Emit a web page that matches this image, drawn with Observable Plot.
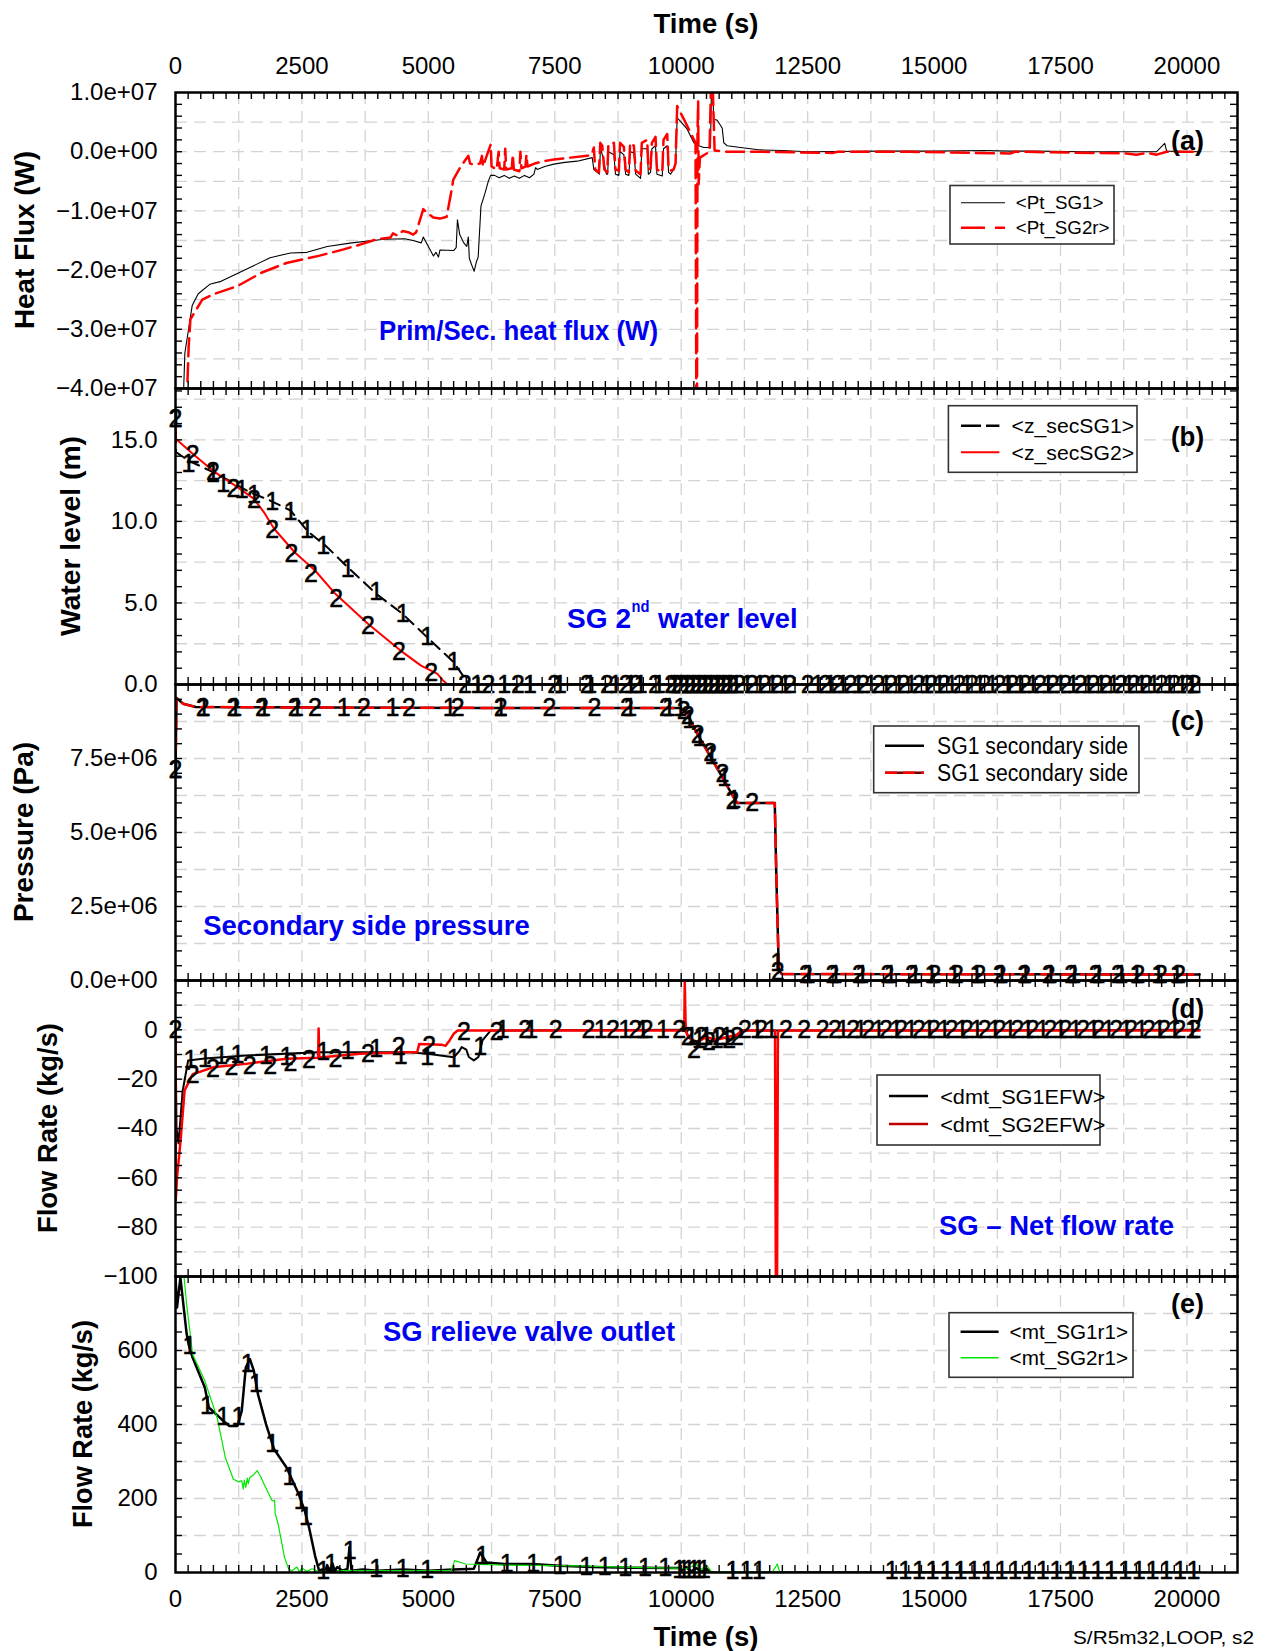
<!DOCTYPE html>
<html>
<head>
<meta charset="utf-8">
<script src="https://cdn.jsdelivr.net/npm/d3@7"></script>
<script src="https://cdn.jsdelivr.net/npm/@observablehq/plot@0.6"></script>
<style>
  body { margin: 0; background: #fff; }
  #chart { position: relative; width: 1269px; height: 1651px; background: #fff; }
  .pnl { position: absolute; left: 0; }
</style>
</head>
<body>
<div id="chart"></div>
<script>
// ---------------- DATA ----------------
const xTickLabels = [0, 2500, 5000, 7500, 10000, 12500, 15000, 17500, 20000];

// (a) heat flux (W)
const heatTicks = [-4e7, -3e7, -2e7, -1e7, 0, 1e7];
const ptSG1 = [
 [150,-4.3e7],[185,-3.4e7],[258,-3.0e7],[330,-2.6e7],[450,-2.4e7],[677,-2.24e7],[900,-2.19e7],[1390,-1.99e7],[1870,-1.79e7],[2275,-1.71e7],[2600,-1.70e7],[3000,-1.60e7],[3485,-1.54e7],[4130,-1.48e7],[4530,-1.47e7],[4700,-1.50e7],[4860,-1.54e7],[4900,-1.44e7],[4950,-1.52e7],[5050,-1.68e7],[5100,-1.76e7],[5150,-1.70e7],[5200,-1.78e7],[5230,-1.66e7],[5500,-1.67e7],[5550,-1.62e7],[5575,-1.15e7],[5620,-1.40e7],[5700,-1.54e7],[5760,-1.60e7],[5790,-1.44e7],[5810,-1.80e7],[5860,-1.92e7],[5905,-2.02e7],[5950,-1.86e7],[5985,-1.78e7],[6040,-0.92e7],[6120,-0.70e7],[6185,-0.50e7],[6232,-0.40e7],[6310,-0.40e7],[6400,-0.44e7],[6500,-0.40e7],[6600,-0.45e7],[6700,-0.41e7],[6800,-0.45e7],[6900,-0.40e7],[7000,-0.44e7],[7087,-0.38e7],[7120,-0.27e7],[7153,-0.30e7],[7300,-0.25e7],[7482,-0.21e7],[7700,-0.18e7],[7943,-0.16e7],[8240,-0.10e7],
 [8272,-0.30e7],[8380,-0.38e7],[8404,0.05e7],[8439,-0.05e7],[8520,-0.38e7],[8545,-0.38e7],[8565,0.0],[8669,-0.05e7],[8700,-0.38e7],[8767,-0.40e7],[8790,0.0],[8866,-0.05e7],[8900,-0.38e7],[8965,-0.40e7],[8990,0.0],[9064,-0.02e7],[9100,-0.38e7],[9196,-0.45e7],[9220,0.05e7],[9328,0.05e7],[9350,-0.38e7],[9394,-0.35e7],[9420,0.05e7],[9492,0.1e7],[9520,-0.38e7],[9625,-0.41e7],[9650,0.05e7],[9723,0.1e7],[9750,-0.35e7],[9789,-0.38e7],[9850,-0.3e7],[9888,-0.21e7],[9920,0.57e7],[10000,0.5e7],[10118,0.38e7],[10250,0.15e7],[10348,0.10e7],[10447,0.07e7],[10579,0.07e7],[10600,1.2e7],[10625,1.2e7],[10640,0.55e7],[10711,0.53e7],[10810,0.40e7],[10843,0.15e7],[10909,0.10e7],[11172,0.07e7],[11567,0.03e7],[12000,0.02e7],[12500,0],[14000,0.01e7],[15000,0.01e7],[16000,0.02e7],[16500,0.01e7],[17000,0.01e7],[18000,0],[19400,0],[19560,0.14e7],[19600,0.01e7],[20250,0]
];
const ptSG2r = [
 [220,-4.3e7],[260,-3.3e7],[295,-2.83e7],[530,-2.5e7],[740,-2.41e7],[1225,-2.27e7],[1710,-2.04e7],[2195,-1.88e7],[2830,-1.76e7],[3325,-1.65e7],[3650,-1.57e7],[3970,-1.48e7],[4250,-1.45e7],[4300,-1.38e7],[4400,-1.42e7],[4490,-1.34e7],[4600,-1.36e7],[4700,-1.40e7],[4760,-1.36e7],[4900,-0.97e7],[4966,-1.03e7],[5098,-1.11e7],[5230,-1.13e7],[5362,-1.10e7],[5461,-0.64e7],[5494,-0.47e7],[5626,-0.27e7],[5791,-0.07e7],[5824,-0.2e7],[5900,-0.22e7],[6022,-0.2e7],[6060,-0.07e7],[6080,-0.25e7],[6232,0.12e7],[6250,-0.25e7],[6350,-0.3e7],[6390,0.0],[6410,-0.28e7],[6500,-0.3e7],[6520,0.05e7],[6540,-0.3e7],[6650,-0.28e7],[6670,-0.05e7],[6690,-0.3e7],[6800,-0.33e7],[6820,0.0],[6840,-0.28e7],[6920,-0.25e7],[6940,-0.05e7],[6960,-0.25e7],[7100,-0.2e7],[7284,-0.16e7],[7482,-0.13e7],[7811,-0.1e7],[8140,-0.07e7],[8230,-0.05e7],
 [8272,0.07e7],[8300,-0.3e7],[8372,-0.35e7],[8400,0.15e7],[8439,0.1e7],[8480,-0.3e7],[8538,-0.35e7],[8560,0.12e7],[8669,0.15e7],[8700,-0.3e7],[8767,-0.32e7],[8790,0.15e7],[8866,0.08e7],[8900,-0.3e7],[8965,-0.35e7],[8990,0.15e7],[9064,0.1e7],[9100,-0.32e7],[9196,-0.38e7],[9220,0.15e7],[9328,0.2e7],[9350,-0.3e7],[9394,-0.28e7],[9420,0.15e7],[9492,0.25e7],[9520,-0.3e7],[9625,-0.35e7],[9650,0.2e7],[9723,0.3e7],[9750,-0.28e7],[9789,-0.32e7],[9850,-0.3e7],[9888,-0.2e7],[9920,0.77e7],[10052,0.55e7],[10184,0.32e7],[10283,0.15e7],[10300,-4.5e7],[10312,-4.5e7],[10322,0.3e7],[10335,0.85e7],[10345,-0.55e7],[10370,-0.1e7],[10560,0.0],[10590,1.2e7],[10620,1.2e7],[10660,0.02e7],[10900,0.0],[11500,0.0],[13000,-0.02e7],[13100,0],[14500,0],[16500,-0.03e7],[16600,0],[18800,-0.03e7],[19000,-0.05e7],[19200,-0.02e7],[19400,-0.05e7],[19600,0],[20250,0]
];

// (b) water level (m)
const levelTicks = [0, 5, 10, 15];
const zSecSG1 = [[0,16.6],[10,14.25],[258,13.73],[742,13.02],[1065,12.5],[1470,11.79],[1870,11.28],[2275,10.67],[2600,9.44],[3000,8.42],[3405,7.19],[3970,5.56],[4490,4.33],[4975,2.9],[5500,1.37],[5705,0.45],[5830,0],[20250,0]];
const zSecSG2 = [[0,16.6],[10,15.06],[340,14.15],[740,13.1],[1225,12.1],[1545,11.4],[1750,10.56],[1950,9.55],[2355,8.11],[2760,6.99],[3160,5.56],[3805,3.72],[4450,2.08],[4855,1.16],[5180,0.65],[5290,0.25],[5380,0],[20250,0]];
const levelMarks1 = [[0,16.3],[258,13.5],[742,12.9],[944,12.3],[1307,11.9],[1549,11.6],[1912,11.2],[2275,10.6],[2597,9.45],[2920,8.5],[3404,7.1],[3968,5.66],[4493,4.33],[4977,2.9],[5502,1.37],
 [5967,0],[6500,0],[7010,0],[7600,0],[8200,0],[8700,0],[9000,0],[9200,0],[9560,0],[9860,0],[9980,0],[10100,0],[10220,0],[10340,0],[10460,0],[10580,0],[10700,0],[10820,0],[10940,0],[11080,0],[11300,0],[11550,0],[11800,0],[12050,0],[12700,0],[12950,0],[13200,0],[13500,0],[13750,0],[14050,0],[14300,0],[14550,0],[14850,0],[15100,0],[15350,0],[15650,0],[15900,0],[16150,0],[16450,0],[16700,0],[16950,0],[17250,0],[17500,0],[17750,0],[18050,0],[18300,0],[18550,0],[18850,0],[19100,0],[19350,0],[19650,0],[19900,0],[20100,0]];
const levelMarks2 = [[0,16.3],[339,14.1],[742,13.0],[1146,12.0],[1549,11.3],[1912,9.45],[2291,8.0],[2678,6.8],[3178,5.25],[3807,3.6],[4421,1.98],[5058,0.7],
 [5725,0],[6190,0],[6770,0],[7490,0],[8130,0],[8530,0],[8900,0],[9100,0],[9480,0],[9800,0],[9920,0],[10040,0],[10160,0],[10280,0],[10400,0],[10520,0],[10640,0],[10760,0],[10880,0],[11000,0],[11150,0],[11400,0],[11650,0],[11900,0],[12150,0],[12500,0],[12850,0],[13100,0],[13350,0],[13600,0],[13900,0],[14150,0],[14400,0],[14700,0],[14950,0],[15200,0],[15500,0],[15750,0],[16000,0],[16300,0],[16550,0],[16800,0],[17100,0],[17350,0],[17600,0],[17900,0],[18150,0],[18400,0],[18700,0],[18950,0],[19200,0],[19500,0],[19750,0],[20000,0],[20150,0]];

// (c) pressure (Pa)
const pressTicks = [0, 2.5e6, 5.0e6, 7.5e6];
const pressSG1 = [[0,7.1e6],[20,9.55e6],[150,9.35e6],[400,9.24e6],[3000,9.22e6],[6000,9.21e6],[9985,9.21e6],[10120,9.04e6],[10250,8.55e6],[10515,7.75e6],[10780,6.96e6],[11040,6.18e6],[11107,6.0e6],[11850,6.0e6],[11880,3.6e6],[11930,0.34e6],[11990,0.22e6],[20250,0.2e6]];
const pressSG2 = [[0,7.1e6],[20,9.55e6],[150,9.35e6],[400,9.24e6],[3000,9.22e6],[6000,9.21e6],[9985,9.21e6],[10120,9.04e6],[10250,8.55e6],[10515,7.75e6],[10780,6.96e6],[11040,6.18e6],[11107,6.0e6],[11850,6.0e6],[11880,3.6e6],[11930,0.34e6],[11990,0.22e6],[20250,0.2e6]];
const pressMarks1 = [[0,7.1e6],[560,9.22e6],[1180,9.22e6],[1750,9.22e6],[2400,9.22e6],[3324,9.22e6],[4291,9.22e6],[5420,9.22e6],[6429,9.22e6],[8990,9.21e6],[9760,9.21e6],[9980,9.21e6],[10160,8.8e6],[10360,8.2e6],[10600,7.6e6],[10850,6.85e6],[11050,6.1e6],[11900,0.6e6],
 [12520,0.2e6],[13050,0.2e6],[13580,0.2e6],[14140,0.2e6],[14620,0.2e6],[14950,0.2e6],[15400,0.2e6],[15840,0.2e6],[16330,0.2e6],[16800,0.2e6],[17300,0.2e6],[17770,0.2e6],[18250,0.2e6],[18700,0.2e6],[19000,0.2e6],[19430,0.2e6],[19800,0.2e6]];
const pressMarks2 = [[0,7.1e6],[540,9.22e6],[1146,9.22e6],[1710,9.22e6],[2355,9.22e6],[2759,9.22e6],[3727,9.22e6],[4614,9.22e6],[5581,9.22e6],[6429,9.22e6],[7397,9.22e6],[8285,9.22e6],[8929,9.21e6],[9700,9.21e6],[10050,9.1e6],[10127,8.93e6],[10328,8.31e6],[10571,7.69e6],[10813,6.96e6],[11014,6.05e6],[11403,6.0e6],[11910,0.3e6],
 [12466,0.2e6],[12990,0.2e6],[13516,0.2e6],[14079,0.2e6],[14563,0.2e6],[15008,0.2e6],[15451,0.2e6],[15895,0.2e6],[16298,0.2e6],[16783,0.2e6],[17267,0.2e6],[17710,0.2e6],[18194,0.2e6],[18638,0.2e6],[19042,0.2e6],[19485,0.2e6],[19848,0.2e6]];

// (d) net flow rate (kg/s)
const netTicks = [-100, -80, -60, -40, -20, 0];
const dmtSG1EFW = [[0,0],[20,-40],[60,-46],[140,-25],[250,-12.4],[580,-11.6],[1390,-10.4],[2830,-9.1],[3805,-9.1],[4620,-9.1],[5020,-9.8],[5500,-11.1],[5600,-9],[5660,-7],[5750,-8],[5800,-11],[5900,-12.4],[5990,-11],[6070,-4.3],[6230,-0.3],[10080,0],[10150,-3],[10300,-6],[10450,-3],[10600,-5],[10800,-3],[11000,-4],[11200,-0.3],[20250,0]];
const dmtSG2EFW = [[0,0],[5,-69],[30,-60],[100,-44.9],[180,-24.6],[340,-18],[740,-15.2],[1390,-13.8],[2195,-11.7],[2820,-11.3],[2830,0.5],[2845,-11.2],[3650,-9.7],[4780,-9],[4820,-5.7],[5260,-6],[5340,-6.5],[5420,-4.3],[5500,-1.6],[5580,-0.3],[10060,-0.3],[10070,19.5],[10090,-0.5],[10140,-3],[10300,-5],[10500,-3],[10700,-4],[10900,-3],[11100,-2],[11200,-0.3],[11855,-0.3],[11872,-105],[11895,-105],[11912,-1],[11940,-0.3],[20250,-0.3]];
const netMarks1 = [[298,-12.4],[580,-11.8],[904,-10.8],[1226,-10.4],[1791,-10.8],[2194,-11.1],[2920,-9.1],[3404,-8.4],[3968,-7.7],[4453,-10.8],[4977,-11.1],[5502,-11.8],[6027,-7.1],[6471,0],[7036,0],[8408,0],[8892,0],[9240,0],[9640,0],[10200,-3],[10350,-4],[10500,-3],[10700,-4],[10900,-3],[11500,0],[11780,0],[13200,0],[13550,0],[13900,0],[14250,0],[14550,0],[14900,0],[15200,0],[15550,0],[15850,0],[16200,0],[16500,0],[16850,0],[17150,0],[17500,0],[17800,0],[18150,0],[18450,0],[18800,0],[19100,0],[19450,0],[19750,0],[20100,0]];
const netMarks2 = [[0,0],[339,-18.5],[742,-15.8],[1105,-14.9],[1468,-14.5],[1871,-14.5],[2275,-13.5],[2638,-12.4],[3162,-11.8],[3807,-9.7],[4412,-7.1],[5018,-6.4],[5704,-1.0],[6350,-1.0],[6915,0],[7520,0],[8166,0],[8650,0],[9094,0],[9320,0],[9960,0],[10130,-3],[10250,-8],[10400,-3],[10550,-5],[10750,-3],[10950,-4],[11100,-3],[11260,0],[11580,0],[12070,0],[12430,0],[12800,0],[13040,0],[13400,0],[13700,0],[14050,0],[14350,0],[14700,0],[15000,0],[15350,0],[15650,0],[16000,0],[16300,0],[16650,0],[16950,0],[17300,0],[17600,0],[17950,0],[18250,0],[18600,0],[18900,0],[19250,0],[19550,0],[19850,0],[20150,0]];

// (e) relief valve outlet flow (kg/s)
const reliefTicks = [0, 200, 400, 600];
const mtSG1r1 = [[0,800],[30,716],[97,797],[220,645],[258,617],[338,581],[580,500],[660,446],[903,415],[1065,396],[1225,396],[1310,437],[1390,554],[1470,577],[1550,545],[1630,482],[1790,401],[1950,333],[2195,284],[2435,212],[2555,167],[2640,122],[2760,45],[2840,5],[2900,8],[2950,0],[3000,20],[3050,3],[3100,25],[3150,5],[3200,15],[3300,5],[3400,10],[3440,68],[3480,5],[3700,8],[4000,5],[4500,8],[5000,5],[5500,8],[5900,10],[6025,54],[6150,27],[6500,23],[7050,23],[7600,18],[8240,15],[9000,13],[9950,12],[10000,5],[10100,15],[10200,3],[10300,12],[10400,2],[10500,10],[10600,0],[20250,0]];
const mtSG2r1 = [[100,900],[220,725],[338,590],[580,518],[822,419],[985,311],[1145,252],[1250,245],[1310,248],[1340,225],[1360,250],[1390,230],[1420,255],[1440,240],[1470,257],[1550,265],[1615,275],[1680,260],[1750,239],[1910,194],[1960,195],[1970,160],[2030,131],[2155,41],[2235,10],[2300,5],[2400,15],[2450,2],[2500,12],[2600,3],[2700,10],[2840,2],[3000,5],[4000,5],[5000,5],[5450,5],[5520,32],[5740,23],[6500,20],[8000,18],[9000,14],[9900,12],[10100,10],[10300,22],[10400,8],[10500,20],[10600,2],[11800,0],[11900,23],[11950,0],[20250,0]];
const reliefMarks1 = [[274,613],[621,450],[944,419],[1243,419],[1427,563],[1589,509],[1912,347],[2251,257],[2476,194],[2581,149],[2920,5],[3081,23],[3445,59],[3968,10],[4493,10],[4977,7],[6066,45],[6550,23],[7075,22],[7599,18],[8123,15],[8486,14],[8890,13],[9281,12],[9684,12],[9960,8],[10050,8],[10150,8],[10250,8],[10350,8],[10450,8],[11014,4],[11297,4],[11539,4],
 [14160,4],[14430,4],[14700,4],[14970,4],[15250,4],[15520,4],[15790,4],[16060,4],[16330,4],[16600,4],[16870,4],[17150,4],[17420,4],[17690,4],[17960,4],[18230,4],[18500,4],[18780,4],[19050,4],[19320,4],[19590,4],[19860,4],[20130,4]];

// ---------------- LAYOUT ----------------
const W = 1269, ML = 175, MR = 32, PH = 296;
const PW = W - ML - MR;
const FONT = "'Liberation Sans', Arial, Helvetica, sans-serif";
const chart = document.getElementById("chart");

function sci(v) {
  if (v === 0) return "0.0e+00";
  const e = Math.floor(Math.log10(Math.abs(v)) + 1e-9);
  const m = v / Math.pow(10, e);
  return (m < 0 ? "\u2212" : "") + Math.abs(m).toFixed(1) + "e" + (e < 0 ? "\u2212" : "+") + String(Math.abs(e)).padStart(2, "0");
}
const intFmt = v => v < 0 ? "\u2212" + (-v) : String(v);

const gridStyle = {stroke: "#d3d3d3", strokeWidth: 1.3, strokeDasharray: "12,7"};

function panel(cfg) {
  const h = PH + cfg.padTop + cfg.padBottom;
  const marks = [
    Plot.ruleX(d3.range(1250, 21000, 1250), gridStyle),
    Plot.ruleY(cfg.yGrid, gridStyle),
    ...cfg.lines.map(L => Plot.line(L.data, {x: d => d[0], y: d => d[1], stroke: L.stroke, strokeWidth: L.width, strokeDasharray: L.dash, clip: true})),
    ...cfg.markers.map(M => Plot.text(M.data, {x: d => d[0], y: d => d[1], text: () => M.label, fontSize: 25, fill: "black", stroke: "black", strokeWidth: 0.5})),
    Plot.ruleX(d3.range(250, 21000, 250), {stroke: "black", strokeWidth: 1.4, insetBottom: PH - 7}),
    Plot.ruleX(d3.range(250, 21000, 250), {stroke: "black", strokeWidth: 1.4, insetTop: PH - 7}),
    Plot.ruleY(cfg.yMinor, {stroke: "black", strokeWidth: 1.4, insetRight: PW - 7}),
    Plot.ruleY(cfg.yMinor, {stroke: "black", strokeWidth: 1.4, insetLeft: PW - 7}),
    Plot.axisY(cfg.yTicks, {anchor: "left", tickSize: 0, tickPadding: 18, tickFormat: cfg.fmt, fontSize: 24, fill: "black"})
  ];
  if (cfg.xAxis) marks.push(Plot.axisX(xTickLabels, {anchor: cfg.xAxis, tickSize: 0, tickPadding: cfg.xAxis === "top" ? 19 : 17, tickFormat: d => String(d), fontSize: 24, fill: "black"}));
  marks.push(Plot.frame({stroke: "black", strokeWidth: 2.5}));
  const svg = Plot.plot({
    width: W, height: h,
    marginLeft: ML, marginRight: MR, marginTop: cfg.padTop, marginBottom: cfg.padBottom,
    x: cfg.xAxis ? {domain: [0, 21000]} : {domain: [0, 21000], axis: null},
    y: {domain: cfg.yDomain, axis: null},
    style: {background: "transparent", overflow: "visible", fontFamily: FONT, fontSize: "24px", color: "black"},
    marks
  });
  const div = document.createElement("div");
  div.className = "pnl";
  div.style.top = (cfg.top - cfg.padTop) + "px";
  div.appendChild(svg);
  chart.appendChild(div);
}

// (a)
panel({top: 92, padTop: 92, padBottom: 20, yDomain: [-4e7, 1e7], yTicks: heatTicks, fmt: sci,
  yMinor: d3.range(-38e6, 10e6, 2e6), yGrid: d3.range(-35e6, 10e6, 5e6), xAxis: "top",
  lines: [
    {data: ptSG1, stroke: "black", width: 1.1},
    {data: ptSG2r, stroke: "#ff0000", width: 2.5, dash: "18,7"}
  ], markers: []});
// (b)
panel({top: 388, padTop: 20, padBottom: 20, yDomain: [0, 18.15], yTicks: levelTicks, fmt: v => v.toFixed(1),
  yMinor: d3.range(1, 18.1, 1), yGrid: d3.range(2.5, 18, 2.5),
  lines: [
    {data: zSecSG1, stroke: "black", width: 2, dash: "11,7"},
    {data: zSecSG2, stroke: "#ff0000", width: 2}
  ], markers: [{data: levelMarks1, label: "1"}, {data: levelMarks2, label: "2"}]});
// (c)
panel({top: 684, padTop: 20, padBottom: 20, yDomain: [0, 1e7], yTicks: pressTicks, fmt: sci,
  yMinor: d3.range(5e5, 1e7, 5e5), yGrid: d3.range(1.25e6, 1e7, 1.25e6),
  lines: [
    {data: pressSG1, stroke: "black", width: 2.5},
    {data: pressSG2, stroke: "#ff0000", width: 2.5, dash: "12,8"}
  ], markers: [{data: pressMarks1, label: "1"}, {data: pressMarks2, label: "2"}]});
// (d)
panel({top: 980, padTop: 20, padBottom: 20, yDomain: [-100, 20], yTicks: netTicks, fmt: intFmt,
  yMinor: d3.range(-95, 20, 5), yGrid: d3.range(-90, 20, 10),
  lines: [
    {data: dmtSG1EFW, stroke: "black", width: 2},
    {data: dmtSG2EFW, stroke: "#ff0000", width: 2.5}
  ], markers: [{data: netMarks1, label: "1"}, {data: netMarks2, label: "2"}]});
// (e)
panel({top: 1276, padTop: 20, padBottom: 79, yDomain: [0, 800], yTicks: reliefTicks, fmt: intFmt,
  yMinor: d3.range(50, 800, 50), yGrid: d3.range(100, 800, 100), xAxis: "bottom",
  lines: [
    {data: mtSG1r1, stroke: "black", width: 2.5},
    {data: mtSG2r1, stroke: "#00e600", width: 1.2}
  ], markers: [{data: reliefMarks1, label: "1"}]});

// ---------------- TEXT OVERLAY ----------------
const ov = d3.select(chart).append("svg")
  .attr("width", W).attr("height", 1651)
  .style("position", "absolute").style("left", 0).style("top", 0)
  .style("font-family", FONT);

function label(s, x, y, o = {}) {
  const t = ov.append("text").text(s).attr("x", x).attr("y", y)
    .attr("font-size", o.size || 24).attr("font-weight", o.weight || "normal")
    .attr("fill", o.fill || "black").attr("text-anchor", o.anchor || "start")
    .attr("dominant-baseline", "central");
  if (o.len) t.attr("textLength", o.len).attr("lengthAdjust", "spacingAndGlyphs");
  if (o.rotate) t.attr("transform", `rotate(-90 ${x} ${y})`);
  return t;
}
function seg(x1, x2, y, stroke, width, dash) {
  const l = ov.append("line").attr("x1", x1).attr("x2", x2).attr("y1", y).attr("y2", y)
    .attr("stroke", stroke).attr("stroke-width", width);
  if (dash) l.attr("stroke-dasharray", dash);
}
function box(x, y, w, h) {
  ov.append("rect").attr("x", x).attr("y", y).attr("width", w).attr("height", h)
    .attr("fill", "white").attr("stroke", "#333").attr("stroke-width", 1.6);
}

// titles
label("Time (s)", 706, 23, {size: 28, weight: "bold", anchor: "middle", len: 105});
label("Time (s)", 706, 1636, {size: 28, weight: "bold", anchor: "middle", len: 105});
label("Heat Flux (W)", 24, 240, {size: 28, weight: "bold", anchor: "middle", len: 178, rotate: true});
label("Water level (m)", 70.5, 536, {size: 28, weight: "bold", anchor: "middle", len: 200, rotate: true});
label("Pressure (Pa)", 23.5, 832, {size: 28, weight: "bold", anchor: "middle", len: 180, rotate: true});
label("Flow Rate (kg/s)", 47.5, 1128, {size: 28, weight: "bold", anchor: "middle", len: 210, rotate: true});
label("Flow Rate (kg/s)", 82.7, 1424, {size: 28, weight: "bold", anchor: "middle", len: 208, rotate: true});
label("S/R5m32,LOOP, s2", 1073, 1637, {size: 19, len: 181});

// panel letters
[["(a)", 140], ["(b)", 436.7], ["(c)", 720.7], ["(d)", 1008], ["(e)", 1303]].forEach(([s, y]) =>
  label(s, 1171, y, {size: 28, weight: "bold", len: 33}));

// blue annotations
const BLUE = "#0000f0";
label("Prim/Sec. heat flux (W)", 379, 330, {size: 28, weight: "bold", fill: BLUE, len: 279});
label("SG 2", 567, 618.3, {size: 28, weight: "bold", fill: BLUE, len: 64});
label("nd", 631.5, 606, {size: 17, weight: "bold", fill: BLUE, len: 18});
label("water level", 658, 618.3, {size: 28, weight: "bold", fill: BLUE, len: 139.5});
label("Secondary side pressure", 203.3, 925.7, {size: 28, weight: "bold", fill: BLUE, len: 326.5});
label("SG \u2013 Net flow rate", 939, 1225.7, {size: 28, weight: "bold", fill: BLUE, len: 235});
label("SG relieve valve outlet", 383, 1331.7, {size: 28, weight: "bold", fill: BLUE, len: 292});

// legends
box(950, 185.5, 164, 58.5);
seg(961, 1005, 202.7, "black", 1.1);
label("<Pt_SG1>", 1015.7, 202.7, {size: 19, len: 87.8});
seg(961, 1005, 227.7, "#ff0000", 2.5, "24,10");
label("<Pt_SG2r>", 1015.7, 227.7, {size: 19, len: 93.9});

box(948.4, 405.7, 188.6, 66.6);
seg(961, 999.4, 425.7, "black", 2.5, "20,5");
label("<z_secSG1>", 1011.6, 425.7, {size: 21, len: 122.5});
seg(961, 999.4, 452.3, "#ff0000", 2);
label("<z_secSG2>", 1011.6, 452.3, {size: 21, len: 122.5});

box(873.7, 726, 265.3, 66.7);
seg(885, 924, 745.7, "black", 2.5);
label("SG1 secondary side", 937, 745.7, {size: 23, len: 191});
seg(885, 924, 772.7, "#600000", 2.5);
seg(885, 924, 772.7, "#ff0000", 2.5, "12,6");
label("SG1 secondary side", 937, 772.7, {size: 23, len: 191});

box(877, 1075, 223, 70);
seg(889, 928, 1096, "black", 2.5);
label("<dmt_SG1EFW>", 940.2, 1096, {size: 21, len: 165.3});
seg(889, 928, 1124, "#c00000", 2.5);
label("<dmt_SG2EFW>", 940.2, 1124, {size: 21, len: 165.3});

box(949, 1312.7, 184, 64.6);
seg(960.6, 998.6, 1331.7, "black", 2.5);
label("<mt_SG1r1>", 1009.6, 1331.7, {size: 20, len: 118.4});
seg(960.6, 998.6, 1357.7, "#00e600", 1.5);
label("<mt_SG2r1>", 1009.6, 1357.7, {size: 20, len: 118.4});
</script>
</body>
</html>
